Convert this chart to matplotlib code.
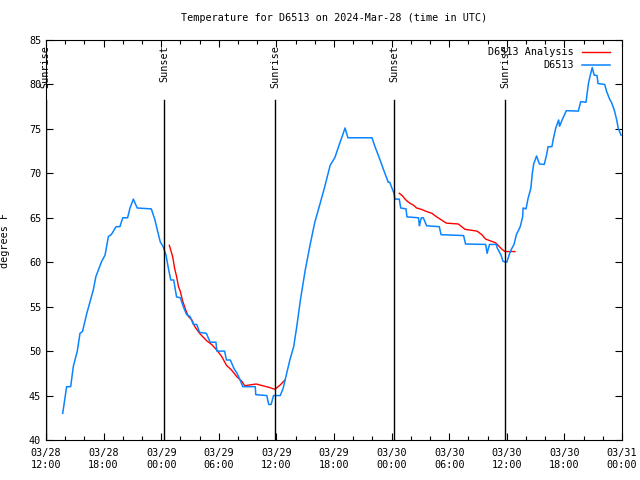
import numpy as np
import matplotlib
matplotlib.use("Agg")
import matplotlib.pyplot as plt
import matplotlib.dates as mdates

# hours after 2024-03-28 12:00 UTC, temperatures in F
obs_hours = [1.74, 2.15, 2.57, 2.85, 3.26, 3.54, 3.8, 4.24, 4.93, 5.2, 5.8, 6.15, 6.5, 6.8,
             7.3, 7.7, 8.0, 8.5, 8.75, 9.1, 9.5, 10.97, 11.35, 11.6, 11.9, 12.2, 12.5, 12.75,
             13.0, 13.3, 13.6, 14.0, 14.3, 14.65, 15.0, 15.35, 15.7, 16.0, 16.7, 17.1, 17.7,
             17.8, 18.6, 18.8, 19.2, 19.6, 19.9, 20.2, 20.5, 21.8, 21.85, 23.0, 23.2, 23.45,
             23.7, 24.4, 24.7, 25.07, 25.4, 25.8, 26.1, 26.5, 27.0, 27.5, 28.0, 28.5, 29.0,
             29.6, 30.1, 30.6, 30.9, 31.15, 31.45, 33.96, 34.27, 34.8, 35.3, 35.65, 35.8,
             36.25, 36.35, 36.8, 36.95, 37.5, 37.6, 38.8, 38.9, 39.0, 39.1, 39.3, 39.65,
             40.97, 41.15, 43.5, 43.7, 45.8, 45.95, 46.2, 46.9, 47.0, 47.4, 47.6, 48.0, 48.3,
             48.5, 48.75, 49.0, 49.4, 49.65, 49.7, 50.0, 50.2, 50.5, 50.66, 50.8, 51.1, 51.4,
             51.9, 52.15, 52.3, 52.7, 52.85, 53.1, 53.4, 53.5, 53.8, 54.2, 55.45, 55.7, 56.25,
             56.5, 56.7, 56.9, 57.1, 57.4, 57.5, 58.2, 58.4, 58.75, 58.9, 59.2, 59.45, 59.6,
             59.9]
obs_temp = [43.0, 46.0, 46.0, 48.3, 50.0, 52.0, 52.2, 54.2, 56.9, 58.4, 60.1, 60.8, 62.9, 63.1,
            64.0, 64.0, 65.0, 65.0, 66.1, 67.1, 66.1, 66.0, 64.75, 63.6, 62.3, 61.75, 60.8, 59.3,
            58.0, 58.0, 56.1, 56.0, 55.0, 54.1, 53.9, 53.0, 53.0, 52.1, 52.0, 51.0, 51.0,
            50.0, 50.0, 49.0, 49.0, 48.0, 47.5, 46.8, 46.0, 46.0, 45.1, 45.0, 44.0, 44.0,
            45.0, 45.0, 45.8, 47.5, 49.0, 50.5, 52.6, 55.75, 59.1, 61.9, 64.5, 66.4, 68.35,
            70.9, 71.8, 73.4, 74.3, 75.1, 74.0, 74.0, 73.0, 71.5, 70.0, 69.0, 69.0,
            67.75, 67.1, 67.1, 66.1, 66.0, 65.1, 65.0, 64.1, 64.6, 65.0, 65.0, 64.1,
            64.0, 63.1, 63.0, 62.05, 62.0, 61.0, 62.0, 62.0, 61.6, 60.8, 60.1, 60.0, 61.0,
            61.5, 62.0, 63.1, 64.0, 65.1, 66.1, 66.0, 67.1, 68.3, 70.0, 71.05, 71.95, 71.05,
            71.0, 72.1, 73.0, 73.0, 73.9, 75.1, 76.0, 75.3, 76.1, 77.05, 77.0, 78.06, 78.0,
            80.1, 81.06, 81.9, 81.05, 81.0, 80.1, 80.0, 79.2, 78.25, 78.0, 77.1, 76.0, 75.1,
            74.3]

ana_hours = [12.85, 13.2, 13.4, 13.6, 13.8, 14.0, 14.2, 14.5, 14.8, 15.2, 15.5, 16.0, 16.7,
             17.3, 17.8, 18.3, 18.8, 19.3, 19.9, 20.4, 20.7, 21.25, 21.9, 22.6, 23.3, 23.85,
             24.4, 24.9, 30.0,
             36.8, 37.15, 37.4, 37.75, 38.3, 38.6, 39.1, 39.65, 40.2, 40.7, 41.2, 41.7, 42.95,
             43.65, 44.9, 45.4, 45.8, 46.8, 47.1, 47.45, 47.8, 48.85]
ana_temp = [61.9, 60.6, 59.3, 58.4, 57.25, 56.7, 55.75, 54.8, 53.95, 53.5, 52.75, 52.0, 51.2,
            50.7, 50.1, 49.4, 48.4, 47.9, 47.1, 46.6, 46.1, 46.2, 46.3, 46.1, 45.9, 45.7,
            46.2, 46.75, np.nan,
            67.75, 67.45, 67.1, 66.75, 66.4, 66.1, 65.95, 65.7, 65.5, 65.1, 64.75, 64.4, 64.3,
            63.7, 63.5, 63.1, 62.6, 62.2, 61.9, 61.5, 61.2, 61.2]

sun_hours = [-0.05, 12.3, 23.85, 36.25, 47.8]
sun_names = ["Sunrise", "Sunset", "Sunrise", "Sunset", "Sunrise"]

t0 = np.datetime64("2024-03-28T12:00")


def to_time(hours):
    return t0 + (np.array(hours) * 3600).astype("timedelta64[s]")


font = "DejaVu Sans Mono"
fs = 7.3
plt.rcParams["font.family"] = font
plt.rcParams["font.size"] = fs

fig = plt.figure(figsize=(6.4, 4.8), dpi=100)
ax = fig.add_axes([46 / 640, 40 / 480, 576 / 640, 400 / 480])

ax.plot(to_time(ana_hours), ana_temp, color="#ff0000", lw=1.0, label="D6513 Analysis")
ax.plot(to_time(obs_hours), obs_temp, color="#0a84ff", lw=1.1, label="D6513")

for h, name in zip(sun_hours, sun_names):
    t = to_time([h])[0]
    ax.plot([t, t], [78.3, 40], color="black", lw=1.0)
    ax.text(t, 84.4, name, rotation=90, ha="center", va="top", fontsize=fs)

ax.set_xlim(t0, t0 + np.timedelta64(60, "h"))
ax.set_ylim(40, 85)
ax.set_yticks(np.arange(40, 86, 5))
ax.xaxis.set_major_locator(mdates.HourLocator(byhour=[0, 6, 12, 18]))
ax.xaxis.set_minor_locator(mdates.HourLocator(interval=2))
ax.xaxis.set_major_formatter(mdates.DateFormatter("%m/%d\n%H:%M"))
ax.tick_params(direction="in", top=True, right=True, length=5, width=0.8, labelsize=fs)
ax.tick_params(which="minor", direction="in", top=True, length=3, width=0.8)
ax.tick_params(axis="x", pad=6)
ax.set_ylabel("degrees F", fontsize=fs)
ax.yaxis.set_label_coords(-0.062, 0.5)
ax.set_title("Temperature for D6513 on 2024-Mar-28 (time in UTC)", fontsize=fs, pad=14)

ax.legend(loc="upper right", bbox_to_anchor=(0.991, 1.0), frameon=False, markerfirst=False,
          handlelength=2.7, labelspacing=0.3, borderaxespad=0.3, fontsize=fs)

fig.savefig("out.png", dpi=100)
